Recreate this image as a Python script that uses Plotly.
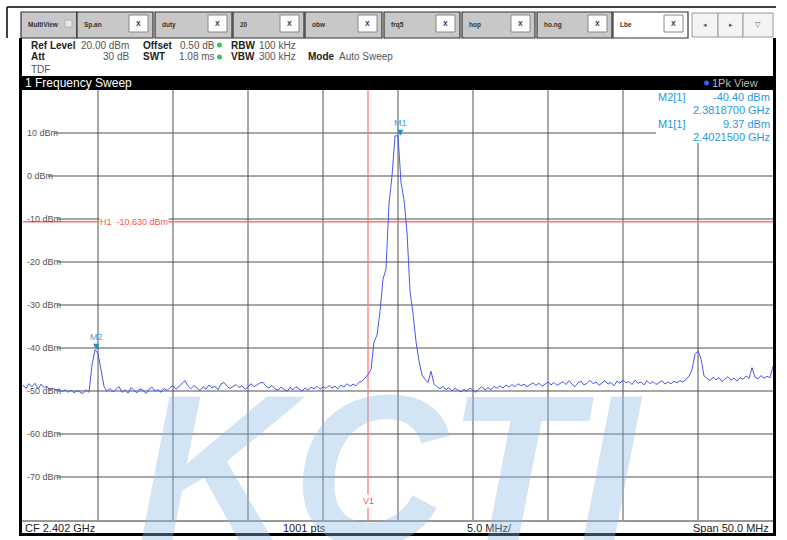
import numpy as np
import plotly.graph_objects as go

FONT = "Liberation Sans"

# sweep settings
cf_ghz = 2.402
span_ghz = 0.050
ref_level_dbm = 20
bottom_dbm = -80

# trace levels, one every 0.2 MHz (251 points across the span)
level_dbm = [
    -48.6, -49.4, -48.3, -49.0, -48.2, -49.5, -48.4, -49.2, -48.9, -49.8,
    -49.3, -49.9, -49.5, -50.1, -49.7, -50.3, -49.8, -50.4, -49.9, -50.2,
    -50.6, -49.7, -50.3,
    -44.0, -40.4, -41.3, -45.5, -48.9, -50.1,
    -49.4, -50.2, -49.6, -49.0, -50.3, -49.7, -50.5, -49.2, -49.9, -50.4,
    -49.5, -49.8, -50.6, -49.6, -49.1, -50.0, -49.7, -50.3, -49.4, -49.9,
    -49.2, -48.8, -49.6, -48.9, -48.1, -47.6, -48.8, -49.5, -48.7, -49.3,
    -49.9, -49.0, -49.6, -48.6, -49.3, -48.9, -49.7, -48.4, -48.0, -48.9,
    -49.4, -49.0, -48.5, -49.2, -48.8, -49.6, -49.1, -48.3, -49.0, -48.6,
    -48.1, -48.0, -48.9, -49.3, -48.7, -49.5, -49.8, -49.1, -49.6, -50.1,
    -49.2, -49.7, -49.0, -49.6, -50.0, -49.3, -49.8, -49.1, -49.5, -48.9,
    -49.6, -49.0, -49.4, -48.7, -49.3, -48.9, -49.5, -48.6, -49.1, -48.3,
    -48.9, -48.4, -48.8, -48.0, -47.7, -47.0,
    -46.2, -45.0, -38.6, -37.0, -31.5, -24.0, -21.6, -6.5, 0.0, 9.3,
    9.37, -1.5, -5.5, -13.0, -26.8, -32.0, -38.5, -43.0, -46.3, -47.3,
    -48.0, -45.4, -48.3, -49.0,
    -49.5, -48.9, -49.7, -49.2, -50.0, -49.4, -49.8, -50.2, -49.6, -50.1,
    -49.3, -49.9, -50.3, -49.5, -49.0, -49.8, -49.2, -49.7, -48.9, -49.4,
    -48.8, -49.3, -48.6, -49.1, -48.5, -49.0, -48.3, -48.8, -48.4, -49.0,
    -48.6, -48.1, -48.7, -48.2, -48.9, -48.4, -47.9, -48.6, -48.0, -48.7,
    -48.3, -47.8, -48.5, -47.6, -48.4, -49.0, -48.1, -47.7, -48.6, -48.2,
    -47.5, -48.3, -47.9, -48.7, -48.1, -47.6, -48.4, -48.0, -48.8, -47.7,
    -48.2, -47.4, -48.1, -47.8, -48.5, -47.5, -48.2, -47.9, -48.6, -47.6,
    -48.3, -47.8, -48.5, -48.0, -47.6, -48.4, -47.9, -48.3, -47.7, -48.1,
    -47.6, -47.9, -47.3, -46.6,
    -45.0, -41.5, -40.7, -42.5, -46.5,
    -47.0, -47.6, -46.8, -47.4, -46.9, -47.8, -47.2, -46.7, -47.5, -47.0,
    -47.7, -46.9, -47.3, -46.5, -47.1, -44.6, -46.8, -47.2, -46.4, -47.0,
    -46.6, -46.9, -44.3,
]
freq_ghz = np.linspace(cf_ghz - span_ghz / 2, cf_ghz + span_ghz / 2, len(level_dbm))

grid_levels = [10, 0, -10, -20, -30, -40, -50, -60, -70]
grid_labels = ["10 dBm", "0 dBm", "-10 dBm", "-20 dBm", "-30 dBm", "-40 dBm", "-50 dBm", "-60 dBm", "-70 dBm"]
grid_freqs = [2.382, 2.387, 2.392, 2.397, 2.402, 2.407, 2.412, 2.417, 2.422]

h1_level = -10.63
v1_freq = 2.400
marker_names = ["M1", "M2"]
marker_freqs = [2.40215, 2.38187]
marker_levels = [9.37, -40.40]

tab_names = ["MultiView", "Sp.an", "duty", "20", "obw", "frq5", "hop", "ho.ng", "Lbe"]

# pixel -> paper helpers for the screen furniture around the diagram
L, R, T, B = 23, 773, 90, 520
def fx(p):
    return (p - L) / (R - L)
def fy(p):
    return (B - p) / (B - T)

shapes = []
ann = []

def rect(x0, y0, x1, y1, fill=None, line=None, lw=1, layer="above"):
    shapes.append(dict(type="rect", xref="paper", yref="paper", x0=fx(x0), x1=fx(x1),
                       y0=fy(y0), y1=fy(y1), fillcolor=fill or "rgba(0,0,0,0)",
                       line=dict(color=line or "rgba(0,0,0,0)", width=lw), layer=layer))

def text(s, x, y, size=10, color="#222", anchor="left", bold=False, bg=None, family=FONT):
    ann.append(dict(text=s, x=fx(x), y=fy(y), xref="paper", yref="paper", xanchor=anchor,
                    yanchor="middle", showarrow=False, bgcolor=bg, borderpad=0,
                    font=dict(family=family, size=size, color=color,
                              weight="bold" if bold else "normal")))

# grid
for f in grid_freqs:
    shapes.append(dict(type="line", xref="x", yref="paper", x0=f, x1=f, y0=0, y1=1,
                       line=dict(color="#505050", width=1), layer="below"))
label_end = [54, 48, 57, 57, 57, 57, 57, 57, 57]
for lv, lab, xe in zip(grid_levels, grid_labels, label_end):
    shapes.append(dict(type="line", xref="paper", yref="y", x0=fx(xe), x1=1, y0=lv, y1=lv,
                       line=dict(color="#505050", width=1), layer="below"))
    ann.append(dict(text=lab, x=fx(25), y=lv, xref="paper", yref="y", xanchor="left",
                    yanchor="middle", showarrow=False,
                    font=dict(family=FONT, size=9, color="#555")))

# marker readout box hides the grid behind it
rect(656, 90, 773, 143, fill="white", layer="below")

# display line H1 and frequency line V1
shapes.append(dict(type="line", xref="paper", yref="y", x0=0, x1=1, y0=h1_level, y1=h1_level,
                   line=dict(color="#ff7070", width=1.5), layer="below"))
shapes.append(dict(type="line", xref="x", yref="paper", x0=v1_freq, x1=v1_freq, y0=0, y1=1,
                   line=dict(color="#ff7070", width=1.2), layer="below"))
ann.append(dict(text="H1  -10.630 dBm", x=fx(99), y=h1_level, xref="paper", yref="y",
                xanchor="left", yanchor="middle", showarrow=False, bgcolor="white", borderpad=0,
                font=dict(family=FONT, size=9, color="#ff5050")))
ann.append(dict(text="V1", x=v1_freq, y=fy(501), xref="x", yref="paper", xanchor="center",
                yanchor="middle", showarrow=False, bgcolor="white", borderpad=1,
                font=dict(family=FONT, size=9, color="#ff5050")))

# markers
for name, f, lv in zip(marker_names, marker_freqs, marker_levels):
    ann.append(dict(text="▼", x=f, y=lv, xref="x", yref="y", xanchor="center", yanchor="bottom",
                    yshift=-3, showarrow=False, font=dict(family="DejaVu Sans", size=8, color="#1f8fd6")))
    ann.append(dict(text=name, x=f, y=lv, xref="x", yref="y", xanchor="center", yanchor="bottom",
                    yshift=6, showarrow=False, font=dict(family=FONT, size=9, color="#45a5dc")))

# marker readout
blue = "#2a98dc"
text("M2[1]", 657, 97, size=11, color=blue)
text("-40.40 dBm", 771, 97, size=11, color=blue, anchor="right")
text("2.3818700 GHz", 771, 110, size=11, color=blue, anchor="right")
text("M1[1]", 657, 124, size=11, color=blue)
text("9.37 dBm", 771, 124, size=11, color=blue, anchor="right")
text("2.4021500 GHz", 771, 137, size=11, color=blue, anchor="right")

# window title bar
rect(20, 76, 776, 90, fill="black")
text("1 Frequency Sweep", 24, 83, size=12, color="white")
shapes.append(dict(type="circle", xref="paper", yref="paper", x0=fx(704), x1=fx(709),
                   y0=fy(80.5), y1=fy(85.5), fillcolor="#3060ff", line=dict(width=0)))
text("1Pk View", 711, 83, size=11, color="#bbbbbb")

# bottom status bar
shapes.append(dict(type="line", xref="paper", yref="paper", x0=fx(20), x1=fx(776), y0=fy(521), y1=fy(521),
                   line=dict(color="#333", width=1)))
text("CF 2.402 GHz", 24, 528, size=11)
text("1001 pts", 282, 528, size=11)
text("5.0 MHz/", 466, 528, size=11)
text("Span 50.0 MHz", 770, 528, size=11, anchor="right")

# frame
rect(19, 38, 22, 536, fill="black")
rect(773, 38, 776, 536, fill="black")
rect(19, 533, 776, 536, fill="black")
shapes.append(dict(type="line", xref="paper", yref="paper", x0=fx(7), x1=fx(776), y0=fy(7), y1=fy(7),
                   line=dict(color="black", width=1.5)))
shapes.append(dict(type="line", xref="paper", yref="paper", x0=fx(7), x1=fx(7), y0=fy(7), y1=fy(38),
                   line=dict(color="black", width=1.5)))

# header with instrument settings
text("Ref Level", 30, 45, bold=True)
text("20.00 dBm", 80, 45, color="#555")
text("Offset", 142, 45, bold=True)
text("0.50 dB", 179, 45, color="#555")
text("RBW", 230, 45, bold=True)
text("100 kHz", 258, 45, color="#555")
text("Att", 30, 57, bold=True)
text("30 dB", 130, 57, color="#555", anchor="right")
text("SWT", 142, 57, bold=True)
text("1.08 ms", 178, 57, color="#555")
text("VBW", 230, 57, bold=True)
text("300 kHz", 258, 57, color="#555")
text("Mode", 307, 57, bold=True)
text("Auto Sweep", 338, 57, color="#555")
text("TDF", 30, 69, color="#555")
for yy in (45, 57):
    shapes.append(dict(type="circle", xref="paper", yref="paper", x0=fx(217), x1=fx(222),
                       y0=fy(yy - 2.5), y1=fy(yy + 2.5), fillcolor="#40c060", line=dict(width=0)))

# tab strip
tab_edges = [(21, 77), (77, 153), (155, 232), (233, 304), (305, 382), (384, 460), (462, 535), (537, 612), (613, 688)]
for (x0, x1), name in zip(tab_edges, tab_names):
    active = name == "Lbe"
    rect(x0, 12, x1, 38, fill="white" if active else "#c8c8c8", line="#333", lw=1.2)
    text(name, x0 + 6, 25, size=6.5, bold=True, color="#333")
    if name == "MultiView":
        rect(65, 20, 72, 27, fill="#e8e8e8", line="#aaa", lw=0.8)
    else:
        rect(x1 - 24, 15, x1 - 5, 32, fill="white", line="#888", lw=1)
        text("X", x1 - 14.5, 24, size=7, bold=True, color="#333", anchor="center")
for (x0, x1), s in zip([(692, 718), (718, 743), (743, 773)], ["◂", "▸", "▽"]):
    rect(x0, 13, x1, 37, fill="#f4f4f4", line="#999", lw=1)
    text(s, (x0 + x1) / 2, 25, size=7, color="#555", anchor="center", family="DejaVu Sans")

# watermark
ann.append(dict(text="<i><b>KCTI</b></i>", x=fx(390), y=fy(470), xref="paper", yref="paper",
                xanchor="center", yanchor="middle", showarrow=False,
                font=dict(family="Liberation Sans", size=215, color="rgba(140,185,228,0.38)")))

fig = go.Figure(go.Scatter(x=freq_ghz, y=level_dbm, mode="lines",
                           line=dict(color="#4a55f2", width=1), hoverinfo="skip"))
fig.update_layout(
    width=787, height=540,
    margin=dict(l=L, r=787 - R, t=T, b=540 - B),
    paper_bgcolor="white", plot_bgcolor="white",
    showlegend=False,
    shapes=shapes, annotations=ann,
    xaxis=dict(range=[cf_ghz - span_ghz / 2, cf_ghz + span_ghz / 2], showgrid=False,
               zeroline=False, showticklabels=False, ticks="", fixedrange=True),
    yaxis=dict(range=[bottom_dbm, ref_level_dbm], showgrid=False, zeroline=False,
               showticklabels=False, ticks="", fixedrange=True),
)
# the page body has a default 8px margin; drop it so the figure sits at the window corner
fig.write_html("out.html", config={"displayModeBar": False},
               post_script="document.body.style.margin='0';")
